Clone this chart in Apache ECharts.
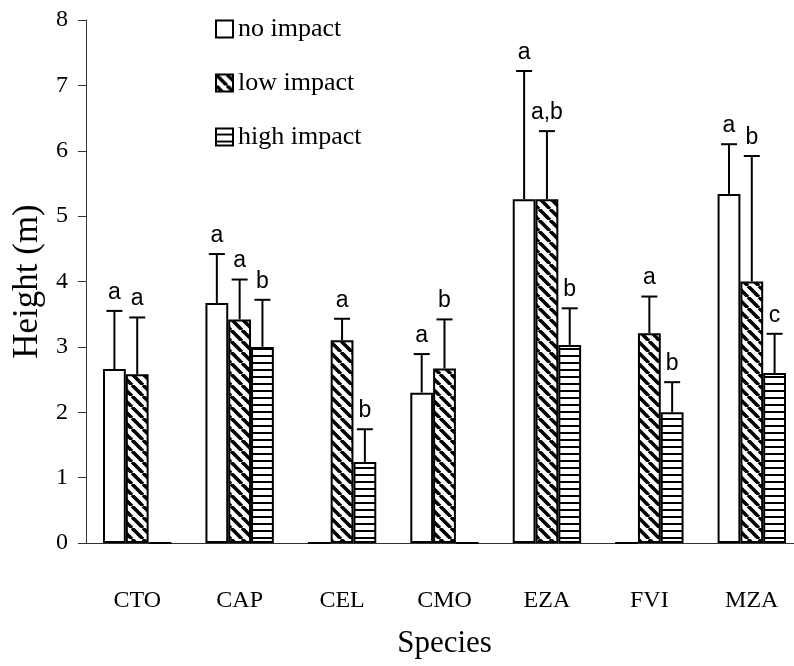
<!DOCTYPE HTML>
<html>
<head>
	<meta http-equiv="Content-Type" content="text/html; charset=utf-8">
	<title>Height by species</title>
	<style>
		body, html { margin: 0; padding: 0; background: #fff; }
		#main { width: 794px; height: 666px; }
	</style>
	<script src="https://cdn.jsdelivr.net/npm/echarts@6/dist/echarts.min.js"></script>
</head>
<body>
	<div id="main"></div>
	<script>
		// data
		var species = ['CTO', 'CAP', 'CEL', 'CMO', 'EZA', 'FVI', 'MZA'];
		var impactNames = ['no impact', 'low impact', 'high impact'];

		var noImpact   = [2.66, 3.67, 0,    2.30, 5.26, 0,    5.34];
		var lowImpact  = [2.58, 3.42, 3.10, 2.67, 5.26, 3.21, 4.00];
		var highImpact = [0,    3.00, 1.24, 0,    3.03, 2.00, 2.60];

		// top of error bar (mean + SD)
		var noErr   = [3.55, 4.42, null, 2.89, 7.22, null, 6.10];
		var lowErr  = [3.45, 4.03, 3.43, 3.42, 6.30, 3.77, 5.92];
		var highErr = [null, 3.72, 1.74, null, 3.59, 2.46, 3.20];

		var noLetters   = ['a', 'a', '',  'a', 'a',   '',  'a'];
		var lowLetters  = ['a', 'a', 'a', 'b', 'a,b', 'a', 'b'];
		var highLetters = ['',  'b', 'b', '',  'b',   'b', 'c'];

		var BAR_W = 22.8;

		// fill patterns
		function diagPattern() {
			var c = document.createElement('canvas');
			c.width = 11; c.height = 11;
			var g = c.getContext('2d');
			g.fillStyle = '#fff'; g.fillRect(0, 0, 11, 11);
			g.strokeStyle = '#000'; g.lineWidth = 3.6;
			[-11, 0, 11].forEach(function (k) {
				g.beginPath(); g.moveTo(k, 0); g.lineTo(k + 11, 11); g.stroke();
			});
			return c;
		}
		function horizPattern() {
			var c = document.createElement('canvas');
			c.width = 4; c.height = 7;
			var g = c.getContext('2d');
			g.fillStyle = '#fff'; g.fillRect(0, 0, 4, 7);
			g.fillStyle = '#000'; g.fillRect(0, 5, 4, 2);
			return c;
		}

		var fills = ['#fff', { image: diagPattern(), repeat: 'repeat' }, { image: horizPattern(), repeat: 'repeat' }];
		var means = [noImpact, lowImpact, highImpact];
		var errs = [noErr, lowErr, highErr];
		var letters = [noLetters, lowLetters, highLetters];

		var series = [];
		impactNames.forEach(function (name, s) {
			series.push({
				name: name,
				type: 'bar',
				barWidth: BAR_W,
				barGap: '0%',
				data: means[s],
				itemStyle: { color: fills[s], borderColor: '#000', borderWidth: 2 },
				z: 3
			});
		});
		impactNames.forEach(function (name, s) {
			var d = [];
			for (var i = 0; i < species.length; i++) {
				if (errs[s][i] != null) d.push([i, means[s][i], errs[s][i], letters[s][i]]);
			}
			series.push({
				type: 'custom',
				silent: true,
				z: 2,
				data: d,
				renderItem: function (params, api) {
					var base = api.coord([api.value(0), api.value(1)]);
					var top = api.coord([api.value(0), api.value(2)]);
					var x = base[0] + (s - 1) * BAR_W;
					var style = { stroke: '#000', lineWidth: 2 };
					return {
						type: 'group',
						children: [
							{ type: 'line', shape: { x1: x, y1: base[1], x2: x, y2: top[1] }, style: style },
							{ type: 'line', shape: { x1: x - 8, y1: top[1], x2: x + 8, y2: top[1] }, style: style },
							{ type: 'text', style: {
								text: letters[s][api.value(0)], x: x, y: top[1] - 7,
								align: 'center', verticalAlign: 'bottom',
								font: '23px "Liberation Sans", Arial, sans-serif', fill: '#000'
							} }
						]
					};
				}
			});
		});

		var chart = echarts.init(document.getElementById('main'));
		chart.setOption({
			animation: false,
			backgroundColor: '#fff',
			grid: { left: 86, top: 20, width: 717, height: 523, outerBoundsMode: 'none' },
			legend: {
				data: impactNames,
				orient: 'vertical',
				left: 215,
				top: 16,
				padding: 0,
				itemWidth: 17,
				itemHeight: 17,
				itemGap: 28,
				icon: 'rect',
				itemStyle: { borderColor: '#000', borderWidth: 2 },
				textStyle: { fontFamily: 'Liberation Serif', fontSize: 26, color: '#000' }
			},
			xAxis: {
				type: 'category',
				data: species,
				name: 'Species',
				nameLocation: 'middle',
				nameGap: 85,
				nameTextStyle: { fontFamily: 'Liberation Serif', fontSize: 31, color: '#000' },
				axisLine: { lineStyle: { color: '#333', width: 1 } },
				axisTick: { length: 9, lineStyle: { color: '#333' } },
				axisLabel: { margin: 46, fontFamily: 'Liberation Serif', fontSize: 24, color: '#000' }
			},
			yAxis: {
				type: 'value',
				min: 0, max: 8, interval: 1,
				name: 'Height (m)',
				nameLocation: 'middle',
				nameGap: 41,
				nameTextStyle: { fontFamily: 'Liberation Serif', fontSize: 35, color: '#000' },
				splitLine: { show: false },
				axisLine: { show: true, lineStyle: { color: '#333', width: 1 } },
				axisTick: { show: true, length: 8, lineStyle: { color: '#333' } },
				axisLabel: { margin: 18, fontFamily: 'Liberation Serif', fontSize: 24, color: '#000' }
			},
			series: series
		});
	</script>
</body>
</html>
